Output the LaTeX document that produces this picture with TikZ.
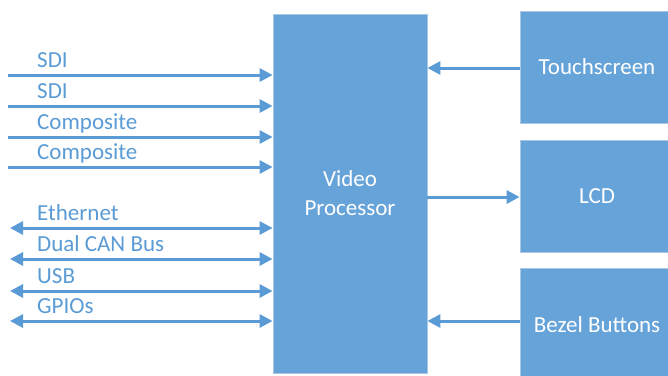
\documentclass[tikz,border=0pt]{standalone}
\usepackage{fontspec}
\setmainfont{Carlito}
\usetikzlibrary{arrows.meta}
\definecolor{boxfill}{HTML}{66A3D9}
\definecolor{boxline}{HTML}{A9C6E4}
\definecolor{arrowc}{HTML}{5B9BD5}
\tikzset{
  box/.style={fill=boxfill, draw=boxline, line width=0.8pt, inner sep=0pt,
    text=white, align=center, font=\fontsize{23}{29}\selectfont},
  lbl/.style={anchor=base west, text=arrowc, inner sep=0pt, font=\fontsize{23}{29}\selectfont},
  arr/.style={draw=arrowc, line width=3pt, -{Triangle[length=13pt,width=13pt]}},
  barr/.style={draw=arrowc, line width=3pt, {Triangle[length=13pt,width=13pt]}-{Triangle[length=13pt,width=13pt]}}
}
\begin{document}
\begin{tikzpicture}[x=1pt,y=-1pt]
\useasboundingbox (0,0) rectangle (668,375);
\clip (0,0) rectangle (668,375);
% boxes
\node[box, minimum width=154pt, minimum height=359pt] (vp) at (350,193.5) {Video\\Processor};
\node[box, minimum width=154pt, minimum height=112pt] (ts) at (597,67) {Touchscreen};
\node[box, minimum width=154pt, minimum height=112pt] (lcd) at (597,196) {LCD};
\node[box, minimum width=154pt, minimum height=114pt] (bz) at (597,325) {Bezel Buttons};
% left free ends
\coordinate (i1) at (8,75);
\coordinate (i2) at (8,106);
\coordinate (i3) at (8,137);
\coordinate (i4) at (8,167);
\coordinate (b1) at (10,228);
\coordinate (b2) at (10,259);
\coordinate (b3) at (10,291);
\coordinate (b4) at (10,321);
% labels
\node[lbl] (l1) at (37,67) {SDI};
\node[lbl] (l2) at (37,98) {SDI};
\node[lbl] (l3) at (37,129) {Composite};
\node[lbl] (l4) at (37,159) {Composite};
\node[lbl] (l5) at (37,220) {Ethernet};
\node[lbl] (l6) at (37,251) {Dual CAN Bus};
\node[lbl] (l7) at (37,283) {USB};
\node[lbl] (l8) at (37,313) {GPIOs};
% arrows
\draw[arr] (i1) -- (i1 -| vp.west);
\draw[arr] (i2) -- (i2 -| vp.west);
\draw[arr] (i3) -- (i3 -| vp.west);
\draw[arr] (i4) -- (i4 -| vp.west);
\draw[barr] (b1) -- (b1 -| vp.west);
\draw[barr] (b2) -- (b2 -| vp.west);
\draw[barr] (b3) -- (b3 -| vp.west);
\draw[barr] (b4) -- (b4 -| vp.west);
\draw[arr] (ts.west |- 0,68) -- (vp.east |- 0,68);
\draw[arr] (vp.east |- 0,197) -- (lcd.west |- 0,197);
\draw[arr] (bz.west |- 0,321) -- (vp.east |- 0,321);
\end{tikzpicture}
\end{document}
